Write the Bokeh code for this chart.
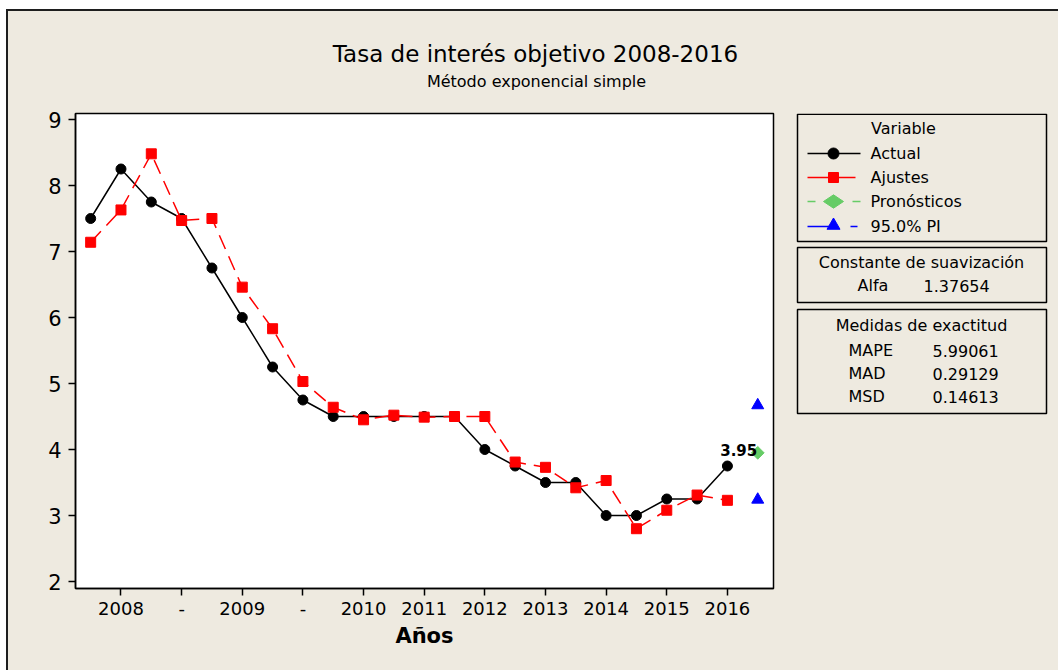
from bokeh.plotting import figure
from bokeh.layouts import column, row
from bokeh.models import Range1d, FixedTicker
from bokeh.core.properties import value
from bokeh.embed import file_html
from bokeh.resources import INLINE

BG = "#EEEAE0"
FONT = "DejaVu Sans"

# ---------------- data ----------------
period = list(range(1, 23))
actual = [7.5, 8.25, 7.75, 7.5, 6.75, 6.0, 5.25, 4.75, 4.5, 4.5, 4.5,
          4.5, 4.5, 4.0, 3.75, 3.5, 3.5, 3.0, 3.0, 3.25, 3.25, 3.75]
fits = [7.14, 7.63, 8.48, 7.47, 7.50, 6.46, 5.83, 5.03, 4.64, 4.45, 4.52,
        4.49, 4.50, 4.50, 3.81, 3.73, 3.42, 3.53, 2.80, 3.08, 3.31, 3.23]
forecast_period = [23]
forecast = [3.95]
pi_period = [23, 23]
pi_bounds = [3.24, 4.67]
tick_positions = [2, 4, 6, 8, 10, 12, 14, 16, 18, 20, 22]
tick_labels = ["2008", "-", "2009", "-", "2010", "2011", "2012", "2013",
               "2014", "2015", "2016"]
y_ticks = [2, 3, 4, 5, 6, 7, 8, 9]
series_names = ["Actual", "Ajustes", "Pronósticos", "95.0% PI"]
alpha_label = "Alfa"
alpha_value = "1.37654"
accuracy_names = ["MAPE", "MAD", "MSD"]
accuracy_values = ["5.99061", "0.29129", "0.14613"]

title_text = "Tasa de interés objetivo 2008-2016"
subtitle_text = "Método exponencial simple"

# ---------------- title strip (page coordinates) ----------------
tfig = figure(width=1050, height=90, x_range=Range1d(8, 1058), y_range=Range1d(101, 11),
              x_axis_type=None, y_axis_type=None, min_border=0,
              output_backend="svg", toolbar_location=None,
              background_fill_color=BG, border_fill_color=BG, outline_line_color=None)
tfig.grid.visible = False
tfig.text(x=[535], y=[53], text=[title_text], text_align="center", text_baseline="middle",
          text_font=value(FONT), text_font_size="23px", text_color="black")
tfig.text(x=[536], y=[81], text=[subtitle_text], text_align="center", text_baseline="middle",
          text_font=value(FONT), text_font_size="16px", text_color="black")

# ---------------- main chart ----------------
MB = dict(min_border_top=12, min_border_bottom=82)
p = figure(width=775, height=569, x_range=Range1d(0.5, 23.52), y_range=Range1d(1.894, 9.091),
           output_backend="svg", toolbar_location=None,
           min_border_left=67, min_border_right=10, **MB,
           background_fill_color="white", border_fill_color=BG,
           outline_line_color="black", outline_line_width=1.5)
p.grid.visible = False

p.line(period, actual, color="black", line_width=1.5)
p.scatter(period, actual, marker="circle", size=10, color="black")
p.line(period, fits, color="red", line_width=1.5, line_dash="15 8")
p.scatter(period, fits, marker="square", size=10, color="red")
p.scatter(forecast_period, forecast, marker="square", angle=0.785398, size=9,
          color="#66CC66")
p.scatter(pi_period, pi_bounds, marker="triangle", size=12, color="blue")
p.text(forecast_period, forecast, text=[f"{v:.2f}" for v in forecast],
       x_offset=-19, y_offset=-3, text_align="center", text_baseline="alphabetic",
       text_font=value(FONT), text_font_style="bold", text_font_size="15px",
       text_color="black")

p.xaxis.ticker = FixedTicker(ticks=tick_positions)
p.xaxis.major_label_overrides = dict(zip(tick_positions, tick_labels))
p.yaxis.ticker = FixedTicker(ticks=y_ticks)
for ax in (p.xaxis, p.yaxis):
    ax.minor_tick_line_color = None
    ax.major_tick_in = 0
    ax.major_tick_out = 7
    ax.major_tick_line_color = "black"
    ax.major_tick_line_width = 1.5
    ax.axis_line_color = "black"
    ax.axis_line_width = 1.5
    ax.major_label_text_font = FONT
    ax.major_label_text_color = "black"
p.xaxis.major_label_text_font_size = "18px"
p.yaxis.major_label_text_font_size = "21px"
p.xaxis.major_label_standoff = 6
p.yaxis.major_label_standoff = 7
p.xaxis.axis_label = "Años"
p.xaxis.axis_label_text_font = FONT
p.xaxis.axis_label_text_font_style = "bold"
p.xaxis.axis_label_text_font_size = "21px"
p.xaxis.axis_label_text_color = "black"
p.xaxis.axis_label_standoff = 6

# ---------------- legend / info panel (page coordinates, frame aligned 113..588) ----
lg = figure(width=275, height=569, x_range=Range1d(783, 1058), y_range=Range1d(588, 113),
            x_axis_type=None, y_axis_type=None, min_border_left=0, min_border_right=0, **MB,
            output_backend="svg", toolbar_location=None,
            background_fill_color=BG, border_fill_color=BG, outline_line_color=None)
lg.grid.visible = False
lg.quad(left=[797, 797, 797], right=[1046, 1046, 1046], top=[113.8, 247, 309],
        bottom=[241, 302, 413], fill_color=None, line_color="black", line_width=1.5)

ly = [153, 177, 201, 226]
lg.line([807, 860], [ly[0], ly[0]], color="black", line_width=1.5)
lg.scatter([833], [ly[0]], marker="circle", size=11, color="black")
lg.line([807, 855], [ly[1], ly[1]], color="red", line_width=1.5)
lg.scatter([833], [ly[1]], marker="square", size=10, color="red")
lg.multi_line([[807, 815], [852, 860]], [[ly[2], ly[2]], [ly[2], ly[2]]],
              color="#66CC66", line_width=1.5)
lg.scatter([833], [ly[2]], marker="diamond", angle=1.570796, size=20, color="#66CC66")
lg.multi_line([[807, 830], [850, 857]], [[ly[3], ly[3]], [ly[3], ly[3]]],
              color="blue", line_width=1.5)
lg.scatter([833], [ly[3] - 1], marker="triangle", size=13, color="blue")

lg.text(x=[903], y=[128], text=["Variable"], text_align="center", text_baseline="middle",
        text_font=value(FONT), text_font_size="16px", text_color="black")
lg.text(x=[870] * 4, y=ly, text=series_names, text_align="left", text_baseline="middle",
        text_font=value(FONT), text_font_size="16px", text_color="black")

lg.text(x=[921], y=[262], text=["Constante de suavización"], text_align="center",
        text_baseline="middle", text_font=value(FONT), text_font_size="16px",
        text_color="black")
lg.text(x=[857, 923], y=[285, 285], text=[alpha_label, alpha_value], text_align="left",
        text_baseline="middle", text_font=value(FONT), text_font_size="16px",
        text_color="black")

lg.text(x=[921], y=[325], text=["Medidas de exactitud"], text_align="center",
        text_baseline="middle", text_font=value(FONT), text_font_size="16px",
        text_color="black")
acc_y = [350, 373, 396]
lg.text(x=[848] * 3, y=acc_y, text=accuracy_names, text_align="left",
        text_baseline="middle", text_font=value(FONT), text_font_size="16px",
        text_color="black")
lg.text(x=[932] * 3, y=acc_y, text=accuracy_values, text_align="left",
        text_baseline="middle", text_font=value(FONT), text_font_size="16px",
        text_color="black")

layout = column(tfig, row(p, lg), margin=(9, 0, 0, 6),
                styles={"border-top": "2px solid #1E1E1E", "border-left": "2px solid #1E1E1E",
                        "background-color": BG})

open("out.html", "w").write(file_html(layout, INLINE))
